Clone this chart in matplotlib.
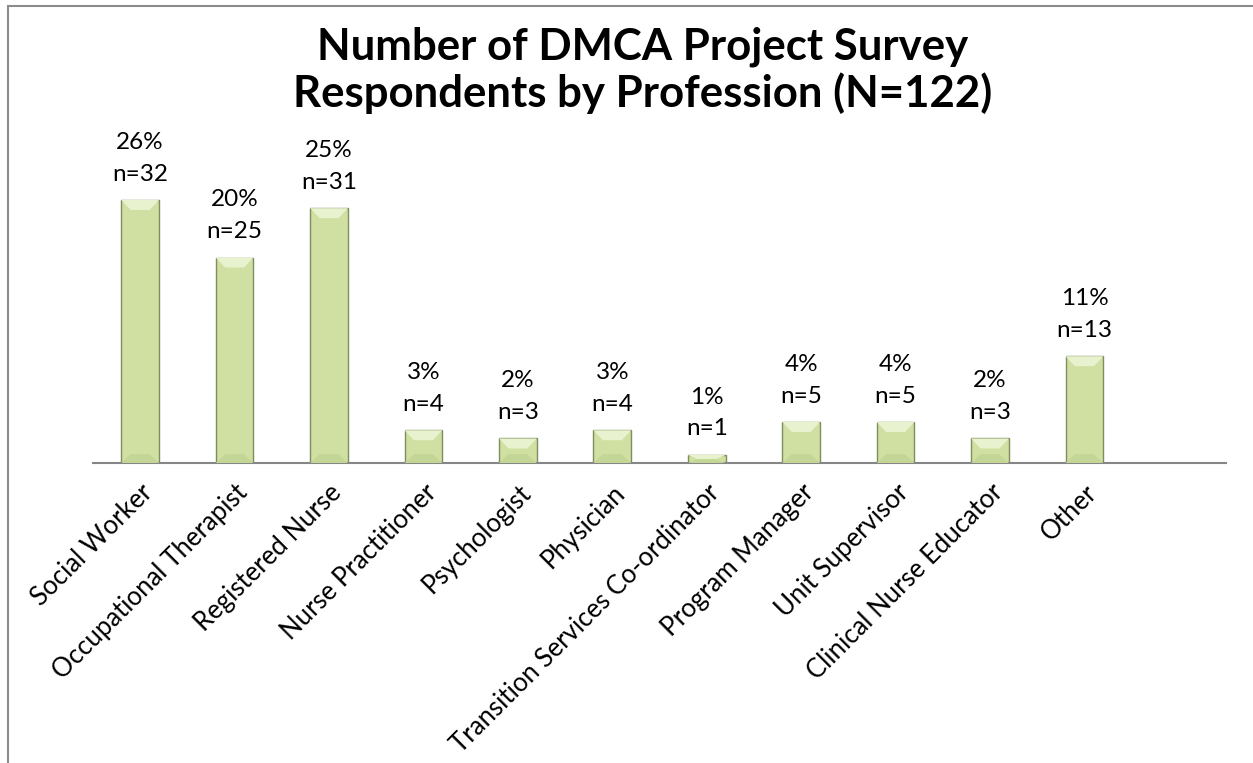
import numpy as np
import matplotlib
matplotlib.use('Agg')
import matplotlib.pyplot as plt
import matplotlib.transforms as mtransforms
from matplotlib.patches import Polygon, Rectangle

professions = ['Social Worker', 'Occupational Therapist', 'Registered Nurse',
               'Nurse Practitioner', 'Psychologist', 'Physician',
               'Transition Services Co-ordinator', 'Program Manager',
               'Unit Supervisor', 'Clinical Nurse Educator', 'Other']
counts = [32, 25, 31, 4, 3, 4, 1, 5, 5, 3, 13]
percents = [26, 20, 25, 3, 2, 3, 1, 4, 4, 2, 11]

plt.rcParams['font.family'] = ['Lato', 'DejaVu Sans']

fig = plt.figure(figsize=(12.53, 7.63), dpi=100)
ax = fig.add_axes([0.0742, 0.393, 0.9043, 0.4495])

index = np.arange(len(professions))
bars = ax.bar(index, counts, 0.4, color='#cfe0a2', edgecolor='#7f8e5c',
              linewidth=1.0, zorder=2)

# bevel look on the bars (light top, soft bottom)
px_per_unit = ax.get_window_extent().height / 41.7
for b in bars:
    x0, w, h = b.get_x(), b.get_width(), b.get_height()
    d = min(10.0 / px_per_unit, h / 2)
    top = Polygon([(x0, h), (x0 + w, h), (x0 + w * 0.75, h - d), (x0 + w * 0.25, h - d)],
                  closed=True, facecolor='#e9f2cf', edgecolor='none', zorder=3)
    bot = Polygon([(x0, 0), (x0 + w, 0), (x0 + w * 0.75, d * 0.9), (x0 + w * 0.25, d * 0.9)],
                  closed=True, facecolor='#c4d696', edgecolor='none', zorder=3)
    ax.add_patch(top)
    ax.add_patch(bot)

# data labels: percent on top line, count below
for i, (c, p) in enumerate(zip(counts, percents)):
    ax.annotate('n=%d' % c, (index[i], c), xytext=(0, 14),
                textcoords='offset points', ha='center', va='baseline', fontsize=17.5)
    ax.annotate('%d%%' % p, (index[i], c), xytext=(0, 37),
                textcoords='offset points', ha='center', va='baseline', fontsize=17.5)

ax.set_xlim(-0.5, 11.5)
ax.set_ylim(0, 41.7)
ax.set_xticks(index)
ax.set_xticklabels(professions, rotation=45, ha='right', va='top',
                   rotation_mode='anchor', fontsize=18.5)
shift = mtransforms.ScaledTranslation(-0.08, 0, fig.dpi_scale_trans)
for lbl in ax.get_xticklabels():
    lbl.set_transform(lbl.get_transform() + shift)
ax.tick_params(axis='x', length=0, pad=12)
ax.set_yticks([])
for s in ['left', 'right', 'top']:
    ax.spines[s].set_visible(False)
ax.spines['bottom'].set_color('#868686')
ax.spines['bottom'].set_linewidth(1.5)

fig.text(0.513, 0.908, 'Number of DMCA Project Survey\nRespondents by Profession (N=122)',
         ha='center', va='center', fontsize=31.5, fontweight='bold', linespacing=1.16)

# chart area border (only left and top visible in the crop)
fig.add_artist(Rectangle((8 / 1253, -0.1), 1.2, 1.1 - 6 / 763, transform=fig.transFigure,
                         fill=False, edgecolor='#8c8c8c', linewidth=1.5))

fig.savefig('out.png', dpi=100)
